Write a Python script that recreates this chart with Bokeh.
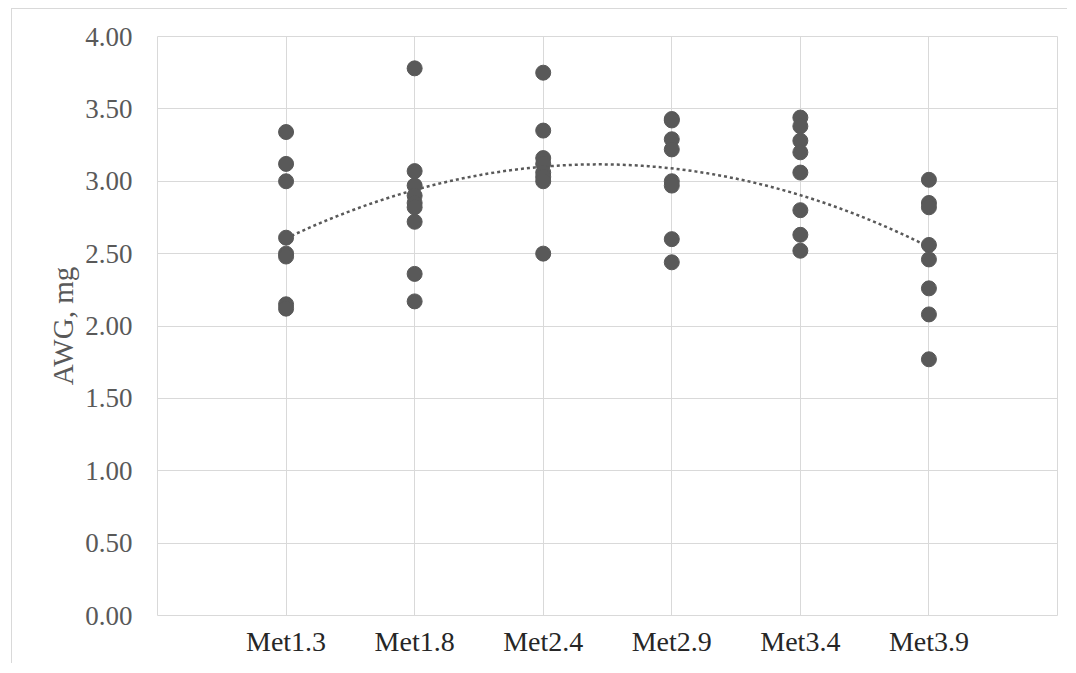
import numpy as np
from bokeh.plotting import figure
from bokeh.models import ColumnDataSource, FixedTicker, Range1d
from bokeh.embed import file_html
from bokeh.resources import INLINE

categories = ["Met1.3", "Met1.8", "Met2.4", "Met2.9", "Met3.4", "Met3.9"]
met13 = [3.34, 3.12, 3.00, 2.61, 2.50, 2.48, 2.15, 2.12]
met18 = [3.78, 3.07, 2.97, 2.90, 2.85, 2.82, 2.72, 2.36, 2.17]
met24 = [3.75, 3.35, 3.16, 3.12, 3.06, 3.03, 3.00, 2.50]
met29 = [3.43, 3.42, 3.29, 3.22, 3.00, 2.97, 2.60, 2.44]
met34 = [3.44, 3.38, 3.28, 3.20, 3.06, 2.80, 2.63, 2.52]
met39 = [3.01, 2.85, 2.82, 2.56, 2.46, 2.26, 2.08, 1.77]
y_ticks = [0.0, 0.5, 1.0, 1.5, 2.0, 2.5, 3.0, 3.5, 4.0]
y_label = "AWG, mg"

groups = [met13, met18, met24, met29, met34, met39]
xs, ys = [], []
for i, g in enumerate(groups):
    xs += [i + 1] * len(g)
    ys += g
src = ColumnDataSource(dict(x=xs, y=ys))

# polynomial (order 2) trendline fitted to the data
coef = np.polyfit(xs, ys, 2)
tx = np.linspace(1, len(categories), 120)
ty = np.polyval(coef, tx)

p = figure(width=1056, height=655, output_backend="svg", toolbar_location=None,
           x_range=Range1d(0, len(categories) + 1), y_range=Range1d(0, 4),
           min_border_left=145, min_border_right=11, min_border_top=27, min_border_bottom=49,
           styles={"border-left": "1px solid #d9d9d9", "border-top": "1px solid #d9d9d9",
                   "margin-left": "11px", "margin-top": "8px"})

p.line(tx, ty, line_color="#595959", line_width=2.5, line_dash="3 3")
p.scatter("x", "y", source=src, size=15, fill_color="#595959", line_color="#595959")

p.outline_line_color = "#d9d9d9"
p.outline_line_width = 1

p.xaxis.ticker = FixedTicker(ticks=list(range(1, len(categories) + 1)))
p.xaxis.major_label_overrides = {i + 1: c for i, c in enumerate(categories)}
p.yaxis.ticker = FixedTicker(ticks=y_ticks)
p.yaxis.major_label_overrides = {t: f"{t:.2f}" for t in y_ticks}

for ax in (p.xaxis[0], p.yaxis[0]):
    ax.axis_line_color = None
    ax.major_tick_line_color = None
    ax.minor_tick_line_color = None
    ax.major_label_text_font = "Liberation Serif"
    ax.major_label_text_font_size = "27px"

p.xaxis.major_label_text_font_size = "28px"
p.xaxis.major_label_text_color = "#262626"
p.xaxis.major_label_standoff = 4
p.yaxis.major_label_text_color = "#595959"
p.yaxis.major_label_standoff = 19

p.yaxis.axis_label = y_label
p.yaxis.axis_label_text_font = "Liberation Serif"
p.yaxis.axis_label_text_font_size = "29px"
p.yaxis.axis_label_text_font_style = "normal"
p.yaxis.axis_label_text_color = "#595959"
p.yaxis.axis_label_standoff = 3

p.xgrid.grid_line_color = "#d9d9d9"
p.ygrid.grid_line_color = "#d9d9d9"
p.xgrid.grid_line_width = 1
p.ygrid.grid_line_width = 1

p.background_fill_color = "white"
p.border_fill_color = "white"

open("out.html", "w").write(file_html(p, INLINE))
